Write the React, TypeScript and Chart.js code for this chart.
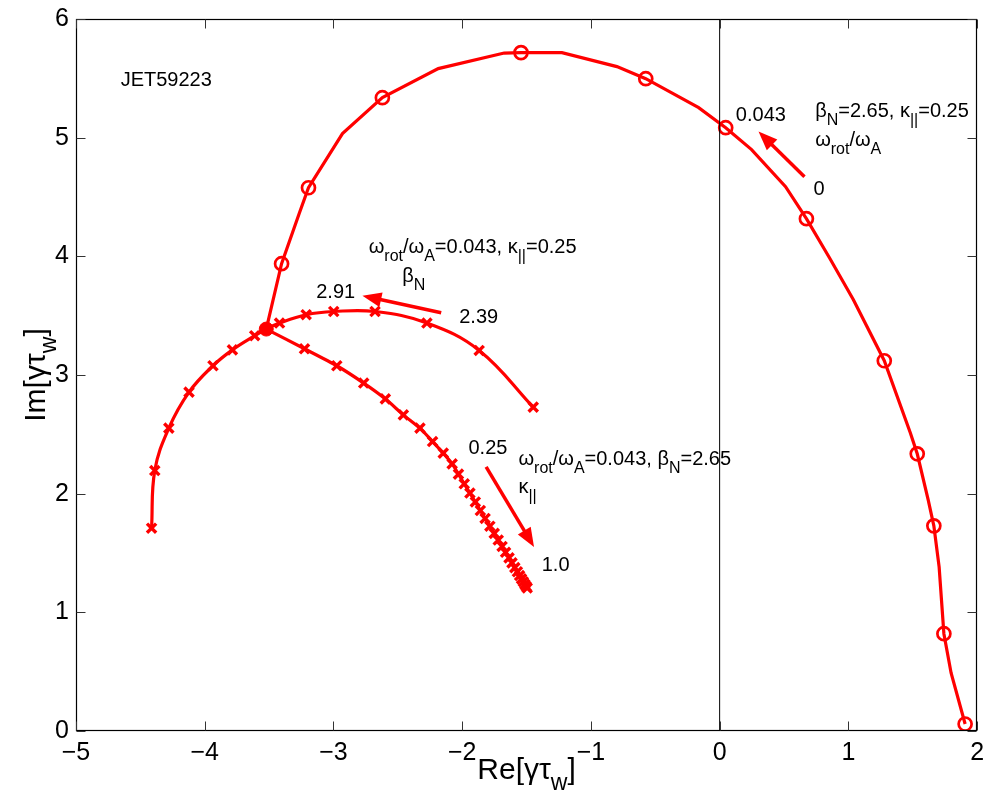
import React, { useEffect, useRef } from 'react';
import { Chart, registerables } from 'chart.js';

Chart.register(...registerables);

// ---------- data ----------
const xTicks = [-5, -4, -3, -2, -1, 0, 1, 2];
const yTicks = [0, 1, 2, 3, 4, 5, 6];

// vertical reference line Re = 0
const zeroLineRe = [0, 0];
const zeroLineIm = [0, 6];

// omega_rot scan: polyline vertices
const omegaLineRe = [-3.522, -3.403, -3.264, -3.194, -2.930, -2.620, -2.186, -1.674, -1.543, -1.225, -0.798, -0.574, -0.163, 0.047, 0.248, 0.512, 0.674, 0.853, 1.039, 1.279, 1.481, 1.535, 1.620, 1.664, 1.705, 1.742, 1.798, 1.907];
const omegaLineIm = [3.387, 3.938, 4.368, 4.578, 5.034, 5.337, 5.582, 5.713, 5.717, 5.717, 5.599, 5.497, 5.253, 5.084, 4.899, 4.587, 4.317, 3.988, 3.634, 3.120, 2.513, 2.336, 1.948, 1.729, 1.383, 0.820, 0.489, 0.059];

// omega_rot scan: circle markers
const omegaMarkRe = [1.907, 1.742, 1.664, 1.535, 1.279, 0.674, 0.047, -0.574, -1.543, -2.620, -3.194, -3.403];
const omegaMarkIm = [0.059, 0.820, 1.729, 2.336, 3.120, 4.317, 5.084, 5.497, 5.717, 5.337, 4.578, 3.938];

// beta_N scan
const betaRe = [-1.448, -1.868, -2.274, -2.677, -2.998, -3.212, -3.419, -3.522, -3.612, -3.785, -3.936, -4.122, -4.279, -4.388, -4.413];
const betaIm = [2.729, 3.207, 3.438, 3.535, 3.535, 3.508, 3.438, 3.387, 3.331, 3.212, 3.078, 2.856, 2.552, 2.195, 1.709];

// kappa_|| scan
const kappaRe = [-3.522, -3.225, -2.974, -2.765, -2.597, -2.457, -2.328, -2.230, -2.147, -2.078, -2.029, -1.984, -1.940, -1.898, -1.859, -1.822, -1.785, -1.751, -1.720, -1.690, -1.663, -1.636, -1.613, -1.591, -1.571, -1.554, -1.539, -1.525, -1.513, -1.503, -1.495];
const kappaIm = [3.387, 3.221, 3.078, 2.932, 2.799, 2.664, 2.552, 2.439, 2.342, 2.251, 2.165, 2.083, 2.005, 1.930, 1.858, 1.791, 1.726, 1.665, 1.609, 1.555, 1.506, 1.459, 1.417, 1.377, 1.342, 1.310, 1.282, 1.258, 1.236, 1.219, 1.206];

// common operating point
const commonRe = [-3.522];
const commonIm = [3.387];

// ---------- annotations ----------
type Seg = { t: string; sub?: boolean };
const notes: { x: number; y: number; segs: Seg[] }[] = [
  { x: -4.653, y: 5.438, segs: [{ t: 'JET59223' }] },
  { x: 0.126, y: 5.137, segs: [{ t: '0.043' }] },
  { x: 0.742, y: 5.177, segs: [{ t: 'β' }, { t: 'N', sub: true }, { t: '=2.65, κ' }, { t: '||', sub: true }, { t: '=0.25' }] },
  { x: 0.742, y: 4.927, segs: [{ t: 'ω' }, { t: 'rot', sub: true }, { t: '/ω' }, { t: 'A', sub: true }] },
  { x: 0.729, y: 4.519, segs: [{ t: '0' }] },
  { x: -2.726, y: 4.030, segs: [{ t: 'ω' }, { t: 'rot', sub: true }, { t: '/ω' }, { t: 'A', sub: true }, { t: '=0.043, κ' }, { t: '||', sub: true }, { t: '=0.25' }] },
  { x: -2.465, y: 3.786, segs: [{ t: 'β' }, { t: 'N', sub: true }] },
  { x: -3.134, y: 3.648, segs: [{ t: '2.91' }] },
  { x: -2.023, y: 3.438, segs: [{ t: '2.39' }] },
  { x: -1.951, y: 2.336, segs: [{ t: '0.25' }] },
  { x: -1.563, y: 2.243, segs: [{ t: 'ω' }, { t: 'rot', sub: true }, { t: '/ω' }, { t: 'A', sub: true }, { t: '=0.043, β' }, { t: 'N', sub: true }, { t: '=2.65' }] },
  { x: -1.563, y: 2.007, segs: [{ t: 'κ' }, { t: '||', sub: true }] },
  { x: -1.382, y: 1.352, segs: [{ t: '1.0' }] },
];

const arrows = [
  { x1: 0.659, y1: 4.671, x2: 0.302, y2: 5.051 },
  { x1: -2.163, y1: 3.524, x2: -2.775, y2: 3.668 },
  { x1: -1.814, y1: 2.226, x2: -1.442, y2: 1.551 },
];

const FONT = "'Liberation Sans', Arial, Helvetica, sans-serif";
const RED = '#ff0000';

const pts = (xs: number[], ys: number[]) => xs.map((x, i) => ({ x, y: ys[i] }));
const minus = (v: number) => (v < 0 ? '\u2212' + Math.abs(v) : String(v));

function drawRich(ctx: CanvasRenderingContext2D, segs: Seg[], x: number, y: number, size: number, subScale: number, subOff: number, align: 'left' | 'center') {
  const main = `${size}px ${FONT}`;
  const sub = `${Math.round(size * subScale)}px ${FONT}`;
  let w = 0;
  for (const s of segs) {
    ctx.font = s.sub ? sub : main;
    w += ctx.measureText(s.t).width;
  }
  let cx = align === 'center' ? x - w / 2 : x;
  ctx.textBaseline = 'alphabetic';
  ctx.textAlign = 'left';
  for (const s of segs) {
    ctx.font = s.sub ? sub : main;
    ctx.fillText(s.t, cx, s.sub ? y + size * subOff : y);
    cx += ctx.measureText(s.t).width;
  }
}

function drawArrow(ctx: CanvasRenderingContext2D, x1: number, y1: number, x2: number, y2: number) {
  const head = 19;
  const hw = 7.5;
  const a = Math.atan2(y2 - y1, x2 - x1);
  const c = Math.cos(a);
  const s = Math.sin(a);
  const bx = x2 - head * c;
  const by = y2 - head * s;
  ctx.strokeStyle = RED;
  ctx.fillStyle = RED;
  ctx.lineWidth = 3.5;
  ctx.beginPath();
  ctx.moveTo(x1, y1);
  ctx.lineTo(bx + 2 * c, by + 2 * s);
  ctx.stroke();
  ctx.beginPath();
  ctx.moveTo(x2, y2);
  ctx.lineTo(bx + hw * s, by - hw * c);
  ctx.lineTo(bx - hw * s, by + hw * c);
  ctx.closePath();
  ctx.fill();
}

const decorPlugin = {
  id: 'decor',
  afterDraw(chart: any) {
    const { ctx, chartArea: ca, scales } = chart;
    const xs = scales.x;
    const ys = scales.y;
    ctx.save();
    // box
    ctx.strokeStyle = '#000';
    ctx.lineWidth = 1.2;
    const L = Math.round(ca.left) + 0.5;
    const R = Math.round(ca.right) - 0.5;
    const T = Math.round(ca.top) + 0.5;
    const B = Math.round(ca.bottom) - 0.5;
    ctx.strokeRect(L, T, R - L, B - T);
    // inward ticks
    ctx.lineWidth = 1;
    ctx.strokeStyle = '#333';
    const tl = 9;
    ctx.beginPath();
    for (const v of xTicks) {
      const p = Math.round(xs.getPixelForValue(v)) + 0.5;
      ctx.moveTo(p, B);
      ctx.lineTo(p, B - tl);
      ctx.moveTo(p, T);
      ctx.lineTo(p, T + tl);
    }
    for (const v of yTicks) {
      const p = Math.round(ys.getPixelForValue(v)) + 0.5;
      ctx.moveTo(L, p);
      ctx.lineTo(L + tl, p);
      ctx.moveTo(R, p);
      ctx.lineTo(R - tl, p);
    }
    ctx.stroke();

    // arrows
    for (const a of arrows) {
      drawArrow(ctx, xs.getPixelForValue(a.x1), ys.getPixelForValue(a.y1), xs.getPixelForValue(a.x2), ys.getPixelForValue(a.y2));
    }

    // notes
    ctx.fillStyle = '#000';
    for (const n of notes) {
      drawRich(ctx, n.segs, xs.getPixelForValue(n.x), ys.getPixelForValue(n.y), 20, 0.8, 0.4, 'left');
    }

    // axis titles
    const titleSegs: Seg[] = [{ t: 'γτ' }, { t: 'w', sub: true }, { t: ']' }];
    drawRich(ctx, [{ t: 'Re[' }, ...titleSegs], (ca.left + ca.right) / 2, ca.bottom + 48, 30, 0.75, 0.35, 'center');
    ctx.save();
    ctx.translate(ca.left - 31, (ca.top + ca.bottom) / 2);
    ctx.rotate(-Math.PI / 2);
    drawRich(ctx, [{ t: 'Im[' }, ...titleSegs], 0, 0, 30, 0.75, 0.35, 'center');
    ctx.restore();
    ctx.restore();
  },
};

export default function App() {
  const ref = useRef<HTMLCanvasElement>(null);
  useEffect(() => {
    if (!ref.current) return;
    const tickFont = { family: FONT, size: 25 };
    const chart = new Chart(ref.current, {
      type: 'scatter',
      data: {
        datasets: [
          {
            data: pts(zeroLineRe, zeroLineIm),
            showLine: true,
            borderColor: '#000',
            borderWidth: 1,
            pointRadius: 0,
          },
          {
            data: pts(omegaLineRe, omegaLineIm),
            showLine: true,
            borderColor: RED,
            borderWidth: 3.2,
            pointRadius: 0,
          },
          {
            data: pts(omegaMarkRe, omegaMarkIm),
            showLine: false,
            pointStyle: 'circle',
            pointRadius: 6.5,
            pointBorderWidth: 2.7,
            borderColor: RED,
            backgroundColor: 'rgba(0,0,0,0)',
          },
          {
            data: pts(betaRe, betaIm),
            showLine: true,
            tension: 0.4,
            borderColor: RED,
            backgroundColor: RED,
            borderWidth: 3.2,
            pointStyle: 'crossRot',
            pointRadius: 6.5,
            pointBorderWidth: 3.4,
          },
          {
            data: pts(kappaRe, kappaIm),
            showLine: true,
            tension: 0.2,
            borderColor: RED,
            backgroundColor: RED,
            borderWidth: 3.2,
            pointStyle: 'crossRot',
            pointRadius: 6.5,
            pointBorderWidth: 3.4,
          },
          {
            data: pts(commonRe, commonIm),
            showLine: false,
            pointStyle: 'circle',
            pointRadius: 7,
            borderColor: RED,
            backgroundColor: RED,
          },
        ],
      },
      options: {
        responsive: false,
        animation: false,
        devicePixelRatio: 1,
        layout: { padding: { top: 19, right: 8, left: 0, bottom: 0 } },
        plugins: { legend: { display: false }, tooltip: { enabled: false } },
        scales: {
          x: {
            type: 'linear',
            min: -5,
            max: 2,
            afterBuildTicks: (s: any) => {
              s.ticks = xTicks.map((v) => ({ value: v }));
            },
            afterFit: (s: any) => {
              s.height = 71;
              s.paddingLeft = 0;
              s.paddingRight = 0;
            },
            grid: { display: false, drawTicks: false },
            border: { display: false },
            ticks: {
              autoSkip: false,
              maxRotation: 0,
              padding: 7,
              color: '#000',
              font: tickFont,
              callback: (v: any) => minus(Number(v)),
            },
          },
          y: {
            type: 'linear',
            min: 0,
            max: 6,
            afterBuildTicks: (s: any) => {
              s.ticks = yTicks.map((v) => ({ value: v }));
            },
            afterFit: (s: any) => {
              s.width = 76;
              s.paddingTop = 0;
              s.paddingBottom = 0;
            },
            grid: { display: false, drawTicks: false },
            border: { display: false },
            ticks: {
              autoSkip: false,
              padding: 7,
              color: '#000',
              font: tickFont,
              callback: (v: any) => minus(Number(v)),
            },
          },
        },
      },
      plugins: [decorPlugin],
    } as any);
    return () => chart.destroy();
  }, []);
  return (
    <div style={{ position: 'absolute', left: 0, top: 0, width: 987, height: 802, background: '#fff' }}>
      <canvas ref={ref} width={987} height={802} style={{ display: 'block', width: 987, height: 802 }} />
    </div>
  );
}
